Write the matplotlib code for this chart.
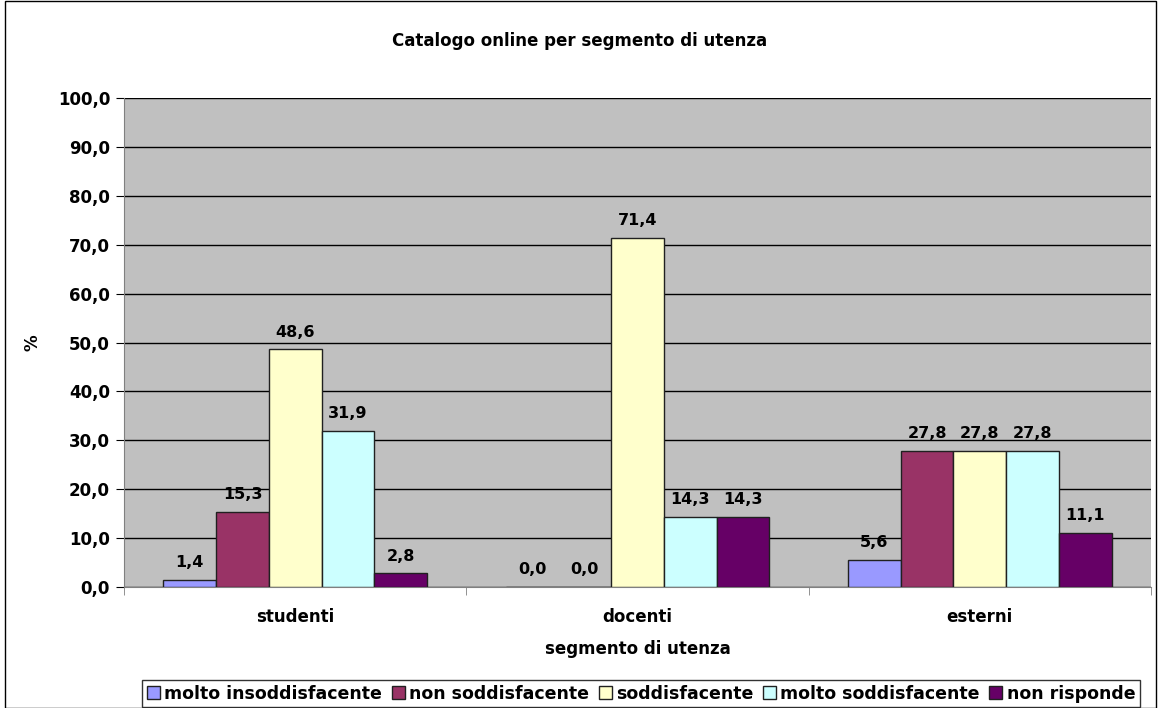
import matplotlib
matplotlib.use('Agg')
import matplotlib.pyplot as plt
import numpy as np
from matplotlib.patches import Rectangle

# segmenti di utenza e risposte (%)
segmenti = ['studenti', 'docenti', 'esterni']
giudizi = ['molto insoddisfacente', 'non soddisfacente', 'soddisfacente',
           'molto soddisfacente', 'non risponde']
molto_insodd = [1.4, 0.0, 5.6]
non_sodd = [15.3, 0.0, 27.8]
sodd = [48.6, 71.4, 27.8]
molto_sodd = [31.9, 14.3, 27.8]
non_risponde = [2.8, 14.3, 11.1]
serie = [molto_insodd, non_sodd, sodd, molto_sodd, non_risponde]
colori = ['#9999FF', '#993366', '#FFFFCC', '#CCFFFF', '#660066']

plt.rcParams['font.family'] = 'DejaVu Sans'
plt.rcParams['font.weight'] = 'bold'
fs = 12

fig = plt.figure(figsize=(11.59, 7.08), dpi=100)
ax = fig.add_axes([124/1159, 1-587/708, (1151-124)/1159, (587-98)/708])
ax.set_facecolor('#C0C0C0')

x = np.arange(len(segmenti))
w = 0.154
for i, (vals, col) in enumerate(zip(serie, colori)):
    pos = x + (i - 2) * w
    ax.bar(pos, vals, w, color=col, edgecolor='#202020', linewidth=1, label=giudizi[i], zorder=3)
    for p, v in zip(pos, vals):
        ax.text(p, v + 2.0, ('%.1f' % v).replace('.', ','), ha='center', va='bottom',
                fontsize=11.5, fontweight='bold')

ax.set_xlim(-0.5, 2.5)
ax.set_ylim(0, 100)
ax.set_yticks(np.arange(0, 101, 10))
ax.set_yticklabels([('%.1f' % t).replace('.', ',') for t in np.arange(0, 101, 10)],
                   fontsize=fs, fontweight='bold')
ax.yaxis.grid(True, color='black', linewidth=1, zorder=1)
ax.set_axisbelow(True)
ax.set_xticks(x)
ax.set_xticklabels(segmenti, fontsize=fs, fontweight='bold')
ax.set_xticks([-0.5, 0.5, 1.5, 2.5], minor=True)
ax.tick_params(axis='x', which='major', length=0, pad=15)
ax.tick_params(axis='x', which='minor', length=6, direction='out', color='#808080')
ax.tick_params(axis='y', length=6, color='black', pad=4)
for s in ['top', 'right']:
    ax.spines[s].set_visible(False)
ax.spines['left'].set_color('#808080')
ax.spines['bottom'].set_color('#808080')
ax.set_xlabel('segmento di utenza', fontsize=fs, fontweight='bold', labelpad=10)
ax.set_ylabel('%', fontsize=12, fontweight='bold', labelpad=12)

fig.text(0.5, 1 - 41/708, 'Catalogo online per segmento di utenza', ha='center', va='center',
         fontsize=fs, fontweight='bold')

leg = fig.legend(loc='lower center', bbox_to_anchor=(641/1159, 0.0), ncol=5,
                 prop={'family': 'DejaVu Sans', 'weight': 'bold', 'size': 12.5},
                 frameon=True, fancybox=False, edgecolor='black', handlelength=0.75,
                 handleheight=0.8, handletextpad=0.25, columnspacing=0.55,
                 borderpad=0.25, borderaxespad=0.05)
leg.get_frame().set_linewidth(1)

fig.patches.append(Rectangle((5/1159, 0), 1 - 8/1159, 1 - 1/708, transform=fig.transFigure,
                             fill=False, edgecolor='black', linewidth=1))

fig.savefig('out.png', dpi=100)
